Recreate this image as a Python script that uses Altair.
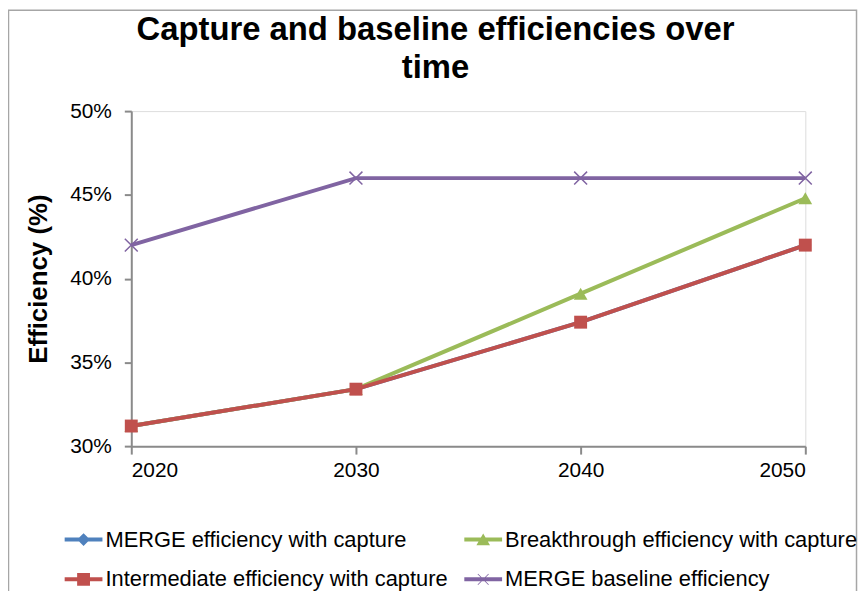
import altair as alt
import pandas as pd

# ---- data ----
years = [2020, 2030, 2040, 2050]
series_names = [
    "MERGE efficiency with capture",
    "Breakthrough efficiency with capture",
    "Intermediate efficiency with capture",
    "MERGE baseline efficiency",
]
merge_capture = [31.2, 33.4, 37.4, 42.0]
breakthrough = [31.2, 33.4, 39.1, 44.8]
intermediate = [31.2, 33.4, 37.4, 42.0]
merge_baseline = [42.0, 46.0, 46.0, 46.0]
y_ticks = [30, 35, 40, 45, 50]

series_values = [merge_capture, breakthrough, intermediate, merge_baseline]
colors = ["#4F81BD", "#9BBB59", "#C0504D", "#8064A2"]

rows = []
for name, vals in zip(series_names, series_values):
    for yr, v in zip(years, vals):
        rows.append({"year": yr, "value": v, "series": name})
df = pd.DataFrame(rows)

FONT = "Liberation Sans"
W, H = 678, 337

x_enc = alt.X(
    "year:Q",
    scale=alt.Scale(domain=[2020, 2050], nice=False, zero=False),
    axis=alt.Axis(
        values=years, format="d", title=None, grid=False,
        domainColor="#8a8a8a", domainWidth=2, tickColor="#8a8a8a", tickWidth=2,
        tickSize=8, labelPadding=6, labelFontSize=21, labelFont=FONT,
        labelColor="black",
    ),
)
y_enc = alt.Y(
    "value:Q",
    scale=alt.Scale(domain=[30, 50], nice=False, zero=False),
    axis=alt.Axis(
        values=y_ticks, labelExpr="datum.value + '%'", grid=False,
        title="Efficiency (%)", titleFont=FONT, titleFontSize=26,
        titleFontWeight="bold", titleColor="black", titleX=-93, titleY=H / 2,
        titleAngle=-90, titleAlign="center", titleBaseline="middle",
        domainColor="#8a8a8a", domainWidth=2, tickColor="#8a8a8a", tickWidth=2,
        tickSize=7, labelPadding=13, labelFontSize=21, labelFont=FONT,
        labelColor="black",
    ),
)

base = alt.Chart(df)

marker_styles = [
    dict(shape="diamond", size=150, filled=True),
    dict(shape="triangle-up", size=190, filled=True),
    dict(shape="square", size=169, filled=True),
    dict(shape="M-1,-1L1,1M-1,1L1,-1", size=169, filled=False, strokeWidth=1.5),
]

layers = []
# frame of the chart area (decoration)
frame = alt.Chart(pd.DataFrame({"k": [0]})).mark_rect(
    fill="transparent", stroke="#a6a6a6", strokeWidth=1.5
).encode(
    x=alt.value(-123.5), x2=alt.value(729.5), y=alt.value(-101.5), y2=alt.value(1000)
)
layers.append(frame)

for name, col, st in zip(series_names, colors, marker_styles):
    sub = base.transform_filter(alt.datum.series == name)
    line = sub.mark_line(strokeWidth=4, color=col).encode(x=x_enc, y=y_enc)
    pt = sub.mark_point(opacity=1, color=col, **st).encode(x=x_enc, y=y_enc)
    layers += [line, pt]

# legend order (filled column by column): left column, then right column
legend_order = [series_names[0], series_names[2], series_names[1], series_names[3]]
legend_colors = [colors[0], colors[2], colors[1], colors[3]]

# legend symbols: line segment + marker (unit square -1..1)
bar = "M-1,-0.105H1V0.105H-1Z"
diamond_p = bar + "M0,-0.34L0.34,0L0,0.34L-0.34,0Z"
triangle_p = bar + "M0,-0.32L0.36,0.3L-0.36,0.3Z"
square_p = bar + "M-0.34,-0.34H0.34V0.34H-0.34Z"
x_p = (bar + "M-0.3,-0.27L-0.27,-0.3L0.3,0.27L0.27,0.3Z"
       "M0.27,-0.3L0.3,-0.27L-0.27,0.3L-0.3,0.27Z")
legend_paths = [diamond_p, square_p, triangle_p, x_p]

leg = alt.Legend(
    title=None, orient="none", legendX=-67, legendY=412, columns=2,
    columnPadding=16, rowPadding=10, symbolSize=1444, symbolStrokeWidth=0,
    symbolOpacity=1, labelFont=FONT, labelFontSize=22, labelColor="black",
    labelOffset=3, labelLimit=0, padding=0,
)
legend_layer = base.transform_filter("datum.year < 0").mark_point(filled=True).encode(
    x=x_enc, y=y_enc,
    color=alt.Color("series:N", scale=alt.Scale(domain=legend_order, range=legend_colors), legend=leg),
    shape=alt.Shape("series:N", scale=alt.Scale(domain=legend_order, range=legend_paths), legend=leg),
)
layers.append(legend_layer)

chart = alt.layer(*layers).properties(
    width=W, height=H,
    autosize=alt.AutoSizeParams(type="none"),
    padding={"left": 124, "top": 102, "right": 53, "bottom": 144},
    title=alt.TitleParams(
        text=["Capture and baseline efficiencies over", "time"],
        font=FONT, fontSize=33, fontWeight="bold", color="black",
        anchor="middle", frame="group", dx=-33, dy=100, offset=24, lineHeight=38,
    ),
).configure_view(strokeWidth=0).configure(background="white")

chart.save("out.html", embed_options={"renderer": "svg", "actions": False})
